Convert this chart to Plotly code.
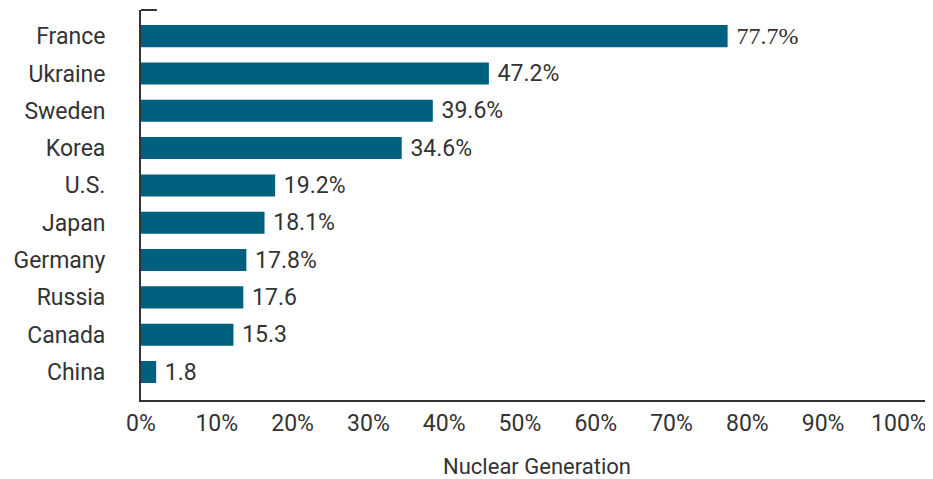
import plotly.graph_objects as go

countries = ["China", "Canada", "Russia", "Germany", "Japan", "U.S.", "Korea", "Sweden", "Ukraine", "France"]
bar_values = [2.0, 12.2, 13.5, 13.9, 16.3, 17.7, 34.4, 38.5, 45.9, 77.4]
value_labels = ["1.8", "15.3", "17.6", "17.8%", "18.1%", "19.2%", "34.6%", "39.6%", "47.2%", "77.7%"]
tick_vals = [0, 10, 20, 30, 40, 50, 60, 70, 80, 90, 100]
tick_text = ["0%", "10%", "20%", "30%", "40%", "50%", "60%", "70%", "80%", "90%", "100%"]

BAR = "#00607F"
TXT = "#333333"
FONT = "Roboto, 'Noto Sans', sans-serif"
fams = [FONT] * 9 + ["'Liberation Serif', serif"]
sizes = [23] * 9 + [24]

fig = go.Figure(go.Bar(
    y=countries, x=bar_values, orientation="h",
    marker=dict(color=BAR, line=dict(width=0)),
    text=[" " + t for t in value_labels], textposition="outside",
    textfont=dict(family=fams, size=sizes, color=TXT),
    constraintext="none",
    cliponaxis=False,
))

# page body has an 8px default margin, so the figure is sized to fit the window
fig.update_layout(
    width=925, height=471,
    margin=dict(l=133, r=0, t=2, b=79, autoexpand=False),
    paper_bgcolor="white", plot_bgcolor="white",
    bargap=0.41, showlegend=False,
    font=dict(family=FONT, size=23, color=TXT),
    xaxis=dict(range=[0, 104.5], tickvals=tick_vals, ticktext=tick_text,
               showgrid=False, zeroline=False, showline=True, linecolor=TXT, linewidth=2,
               ticks="", ticklabelstandoff=1, automargin=False,
               title=dict(text="Nuclear Generation", standoff=27, font=dict(size=22))),
    yaxis=dict(range=[-0.75, 9.70], showgrid=False, zeroline=False, showline=True,
               linecolor=TXT, linewidth=2, ticks="", ticklabelstandoff=29, automargin=False),
    shapes=[dict(type="line", xref="paper", yref="paper", x0=0, x1=0.02, y0=1, y1=1,
                 line=dict(color=TXT, width=2))],
)

fig.write_html("out.html")
